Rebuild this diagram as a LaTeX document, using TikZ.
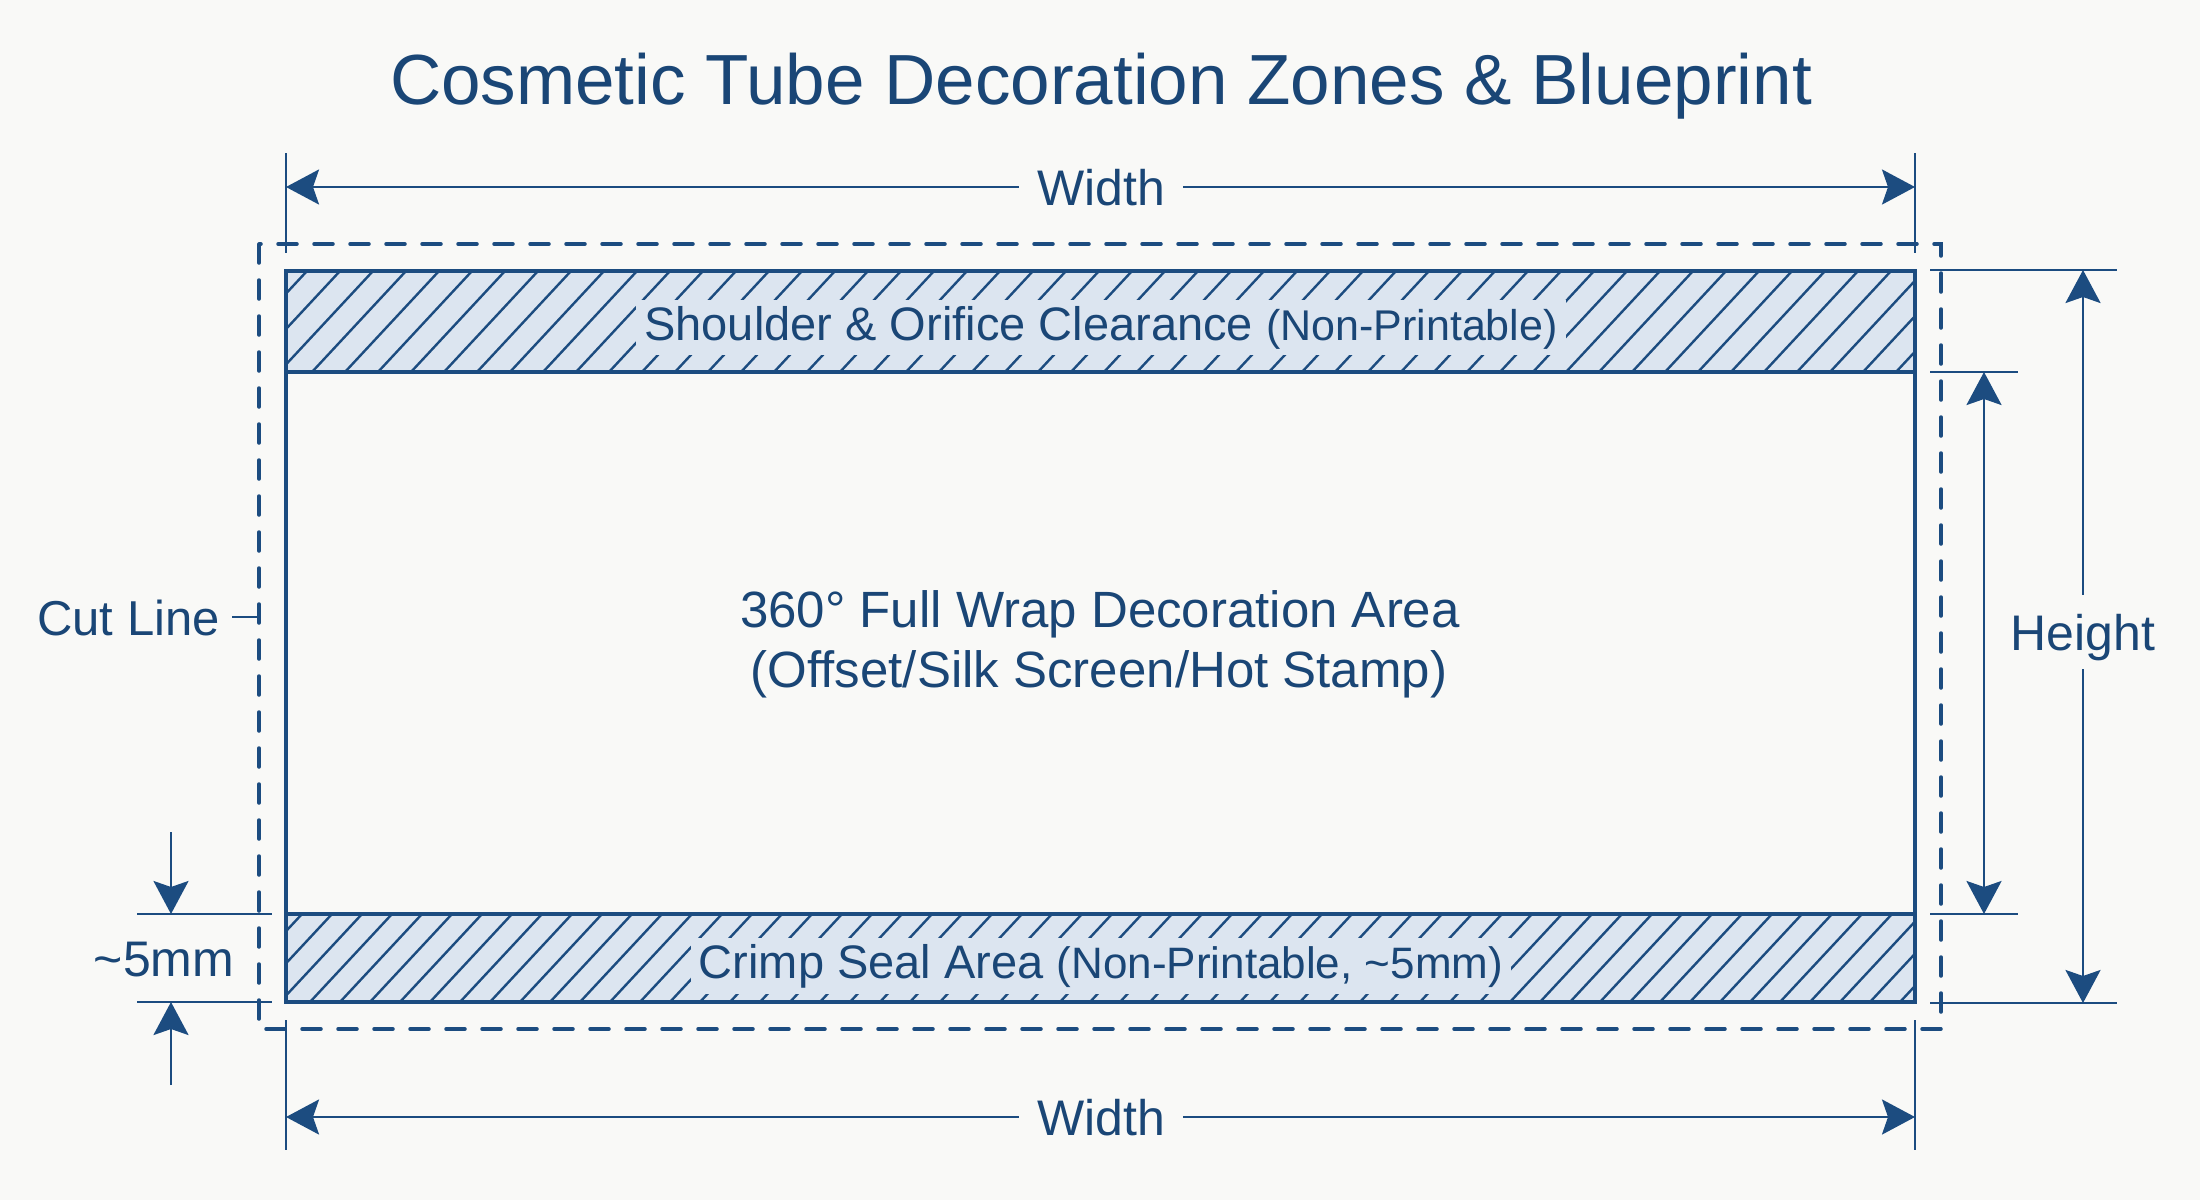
\documentclass[tikz,border=0pt]{standalone}
\usepackage{fontspec}
\setmainfont{Liberation Sans}
\usetikzlibrary{arrows.meta}
\definecolor{ink}{HTML}{1C4C80}
\definecolor{txt}{HTML}{1A4676}
\definecolor{bandfill}{HTML}{DCE5F0}
\definecolor{bg}{HTML}{F9F9F7}
\tikzset{
  tip/.tip={Stealth[length=33pt,width=35pt,inset=6pt]},
  ext/.style={draw=ink, line width=2.6pt},
  dimarrow/.style={draw=ink, line width=2.6pt, -tip},
  dimboth/.style={draw=ink, line width=2.6pt, tip-tip},
  lbl/.style={text=txt, font=\fontsize{50}{58}\selectfont, text height=36pt, text depth=0pt, inner xsep=18pt, inner ysep=19pt},
  bandtext/.style={text=txt, fill=bandfill, font=\fontsize{47}{54}\selectfont, inner xsep=8pt, inner ysep=6pt, anchor=base},
  hatch/.style={draw=ink, line width=2.4pt},
  outline/.style={draw=ink, line width=4.5pt},
  cutline/.style={draw=ink, line width=3.5pt, line cap=round, dash pattern=on 19pt off 17pt},
}
\begin{document}
\begin{tikzpicture}[x=1pt,y=-1pt]
\fill[bg] (0,0) rectangle (2200,1200);
\useasboundingbox (0,0) rectangle (2200,1200);

% title
\node[text=txt, font=\fontsize{71}{80}\selectfont, anchor=base, inner sep=0] (title) at (1101,104) {Cosmetic Tube Decoration Zones \& Blueprint};

% key coordinates
\coordinate (TL) at (286,271);
\coordinate (BR) at (1915,1002);

% top band
\fill[bandfill] (286,271) rectangle (1915,372);
\begin{scope}
  \clip (286,271) rectangle (1915,372);
  \foreach \x in {180,213,...,1960} \draw[hatch] (\x,372) -- ++(94,-101);
\end{scope}
% bottom band
\fill[bandfill] (286,914) rectangle (1915,1002);
\begin{scope}
  \clip (286,914) rectangle (1915,1002);
  \foreach \x in {190,220,...,1960} \draw[hatch] (\x,1002) -- ++(82,-88);
\end{scope}

\node[bandtext] (shoulder) at (1101,340) {Shoulder \& Orifice Clearance {\fontsize{43}{50}\selectfont(Non-Printable)}};
\node[bandtext] (crimp) at (1101,978) {Crimp Seal Area {\fontsize{44}{50}\selectfont(Non-Printable, \textasciitilde5mm)}};

% outlines
\draw[outline] (TL) rectangle (BR);
\draw[outline] (286,372) -- (1915,372);
\draw[outline] (286,914) -- (1915,914);

% cut line
\draw[cutline] (259,244) rectangle (1941,1029);

% centre text
\node[text=txt, font=\fontsize{51}{60}\selectfont, anchor=base, inner sep=0] (area1) at (1100,627) {360° Full Wrap Decoration Area};
\node[text=txt, font=\fontsize{51}{60}\selectfont, anchor=base, inner sep=0] (area2) at (1099,687) {(Offset/Silk Screen/Hot Stamp)};

% top width dimension
\coordinate (tw1) at (286,187);
\coordinate (tw2) at (1915,187);
\draw[ext] (286,153) -- (286,253);
\draw[ext] (1915,153) -- (1915,253);
\node[lbl] (wtop) at (1101,187) {Width};
\draw[dimarrow] (wtop.west) -- (tw1);
\draw[dimarrow] (wtop.east) -- (tw2);

% bottom width dimension
\coordinate (bw1) at (286,1117);
\coordinate (bw2) at (1915,1117);
\draw[ext] (286,1020) -- (286,1150);
\draw[ext] (1915,1020) -- (1915,1150);
\node[lbl] (wbot) at (1101,1117) {Width};
\draw[dimarrow] (wbot.west) -- (bw1);
\draw[dimarrow] (wbot.east) -- (bw2);

% height dimension
\draw[ext] (1930,270) -- (2117,270);
\draw[ext] (1930,1003) -- (2117,1003);
\coordinate (h1) at (2083,270);
\coordinate (h2) at (2083,1003);
\node[lbl] (hlab) at (2083,632) {Height};
\draw[dimarrow] (hlab.north) -- (h1);
\draw[dimarrow] (hlab.south) -- (h2);

% printable area dimension
\draw[ext] (1930,372) -- (2018,372);
\draw[ext] (1930,914) -- (2018,914);
\coordinate (p1) at (1984,372);
\coordinate (p2) at (1984,914);
\draw[dimboth] (p1) -- (p2);

% cut line label
\node[text=txt, font=\fontsize{49}{56}\selectfont, text height=36pt, text depth=0pt, inner sep=0, anchor=east] (cut) at (220,617) {Cut Line};
\draw[ext] ([xshift=12pt]cut.east) -- ++(26,0);

% ~5mm dimension
\draw[ext] (137,914) -- (272,914);
\draw[ext] (137,1002) -- (272,1002);
\coordinate (f1s) at (171,832);
\coordinate (f1e) at (171,914);
\coordinate (f2s) at (171,1085);
\coordinate (f2e) at (171,1002);
\draw[dimarrow] (f1s) -- (f1e);
\draw[dimarrow] (f2s) -- (f2e);
\node[text=txt, font=\fontsize{50}{58}\selectfont, text height=36pt, text depth=0pt, inner sep=0] (five) at (164,958) {\textasciitilde5mm};
\end{tikzpicture}
\end{document}
